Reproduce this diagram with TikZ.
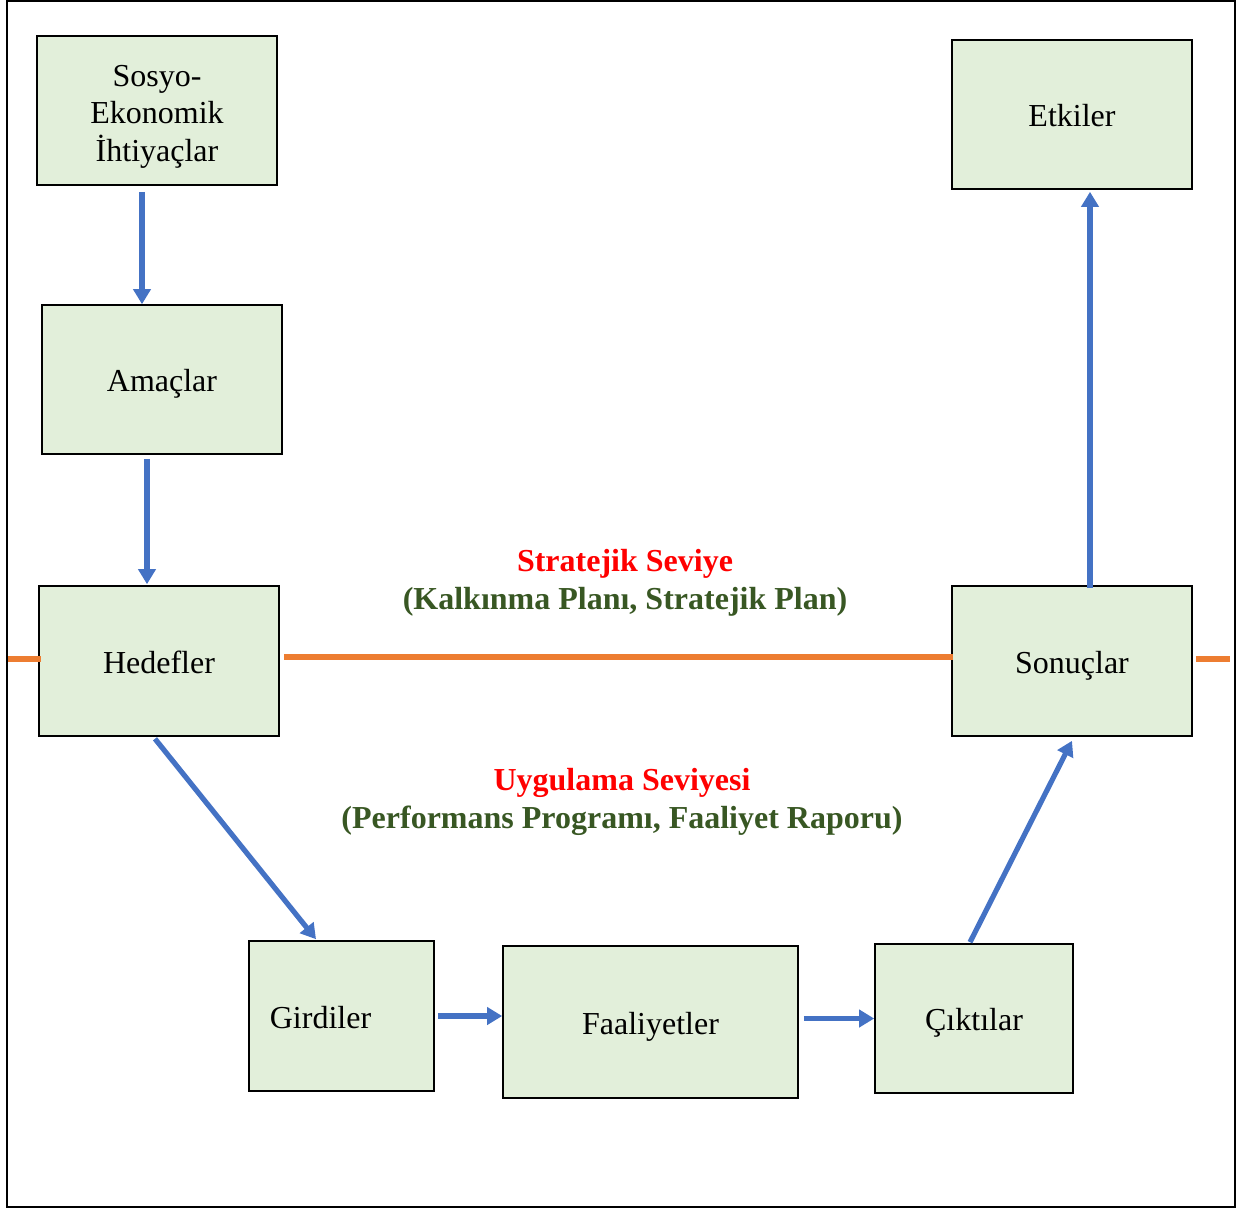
\documentclass[tikz,border=0pt]{standalone}
\usepackage{fontspec}
\setmainfont{Liberation Serif}
\usetikzlibrary{arrows.meta}
\definecolor{boxfill}{HTML}{E2EFDA}
\definecolor{arrblue}{HTML}{4472C4}
\definecolor{lineorange}{HTML}{ED7D31}
\definecolor{darkgreen}{HTML}{385723}
\definecolor{redtxt}{HTML}{FF0000}
\tikzset{
  stepbox/.style={draw=black, line width=1.6pt, fill=boxfill, inner sep=0pt,
    minimum width=#1, font=\fontsize{32}{37.5}\selectfont, align=center},
  onelinetext/.style={text height=24pt, text depth=0pt},
  flowarrow/.style={draw=arrblue, line width=5.2pt, -{Triangle[length=15pt,width=17pt]}},
  levelline/.style={draw=lineorange, line width=5.5pt},
  redlabel/.style={text=redtxt, font=\fontsize{32}{37}\selectfont\bfseries},
  greenlabel/.style={text=darkgreen, font=\fontsize{32}{37}\selectfont\bfseries},
}
\begin{document}
\begin{tikzpicture}[x=1pt,y=-1pt]
\useasboundingbox (0,0) rectangle (1244,1210);
\draw[line width=2pt] (7,1) rectangle (1235,1207);

\node[stepbox=240pt, minimum height=149pt] (sos) at (157,110.5) {\rule{0pt}{33pt}Sosyo-\\Ekonomik\\İhtiyaçlar};
\node[stepbox=240pt, minimum height=149pt, onelinetext] (ama) at (162,379.5) {Amaçlar};
\node[stepbox=240pt, minimum height=150pt, onelinetext] (hed) at (159,661) {Hedefler};
\node[stepbox=240pt, minimum height=149pt, onelinetext] (etk) at (1072,114.5) {Etkiler};
\node[stepbox=240pt, minimum height=150pt, onelinetext] (son) at (1072,661) {Sonuçlar};
\node[stepbox=185pt, minimum height=150pt, onelinetext] (gir) at (341.5,1016) {Girdiler\hspace{42pt}};
\node[stepbox=295pt, minimum height=152pt, onelinetext] (faa) at (650.5,1022) {Faaliyetler};
\node[stepbox=198pt, minimum height=149pt, onelinetext] (cik) at (974,1018.5) {Çıktılar};

\node[redlabel] (strat) at (625,564) {Stratejik Seviye};
\node[greenlabel] (stratsub) at (625,602) {(Kalkınma Planı, Stratejik Plan)};
\node[redlabel] (uyg) at (622,783) {Uygulama Seviyesi};
\node[greenlabel] (uygsub) at (622,821) {(Performans Programı, Faaliyet Raporu)};

\coordinate (leftend) at (8,659);
\coordinate (rightend) at (1230,659);
\draw[levelline] (leftend) -- ([xshift=3pt,yshift=2pt]hed.west);
\draw[levelline] ([xshift=4pt,yshift=4pt]hed.east) -- ([xshift=2pt,yshift=4pt]son.west);
\draw[levelline] ([xshift=3pt,yshift=2pt]son.east) -- (rightend);

\draw[flowarrow] ([xshift=-15pt,yshift=-6pt]sos.south) -- ([xshift=-20pt]ama.north);
\draw[flowarrow] ([xshift=-15pt,yshift=-4pt]ama.south) -- ([xshift=-12pt,yshift=1pt]hed.north);
\draw[flowarrow] ([xshift=-4pt,yshift=-2pt]hed.south) -- ([xshift=-25.5pt,yshift=1pt]gir.north);
\draw[flowarrow] ([xshift=3pt]gir.east) -- (gir.east -| faa.west);
\draw[flowarrow] ([xshift=5pt]faa.east |- cik.west) -- (cik.west);
\draw[flowarrow] ([xshift=-4pt,yshift=1pt]cik.north) -- ([yshift=-4pt]son.south);
\draw[flowarrow] ([xshift=18pt,yshift=-3pt]son.north) -- ([xshift=18pt,yshift=-2pt]etk.south);
\end{tikzpicture}
\end{document}
